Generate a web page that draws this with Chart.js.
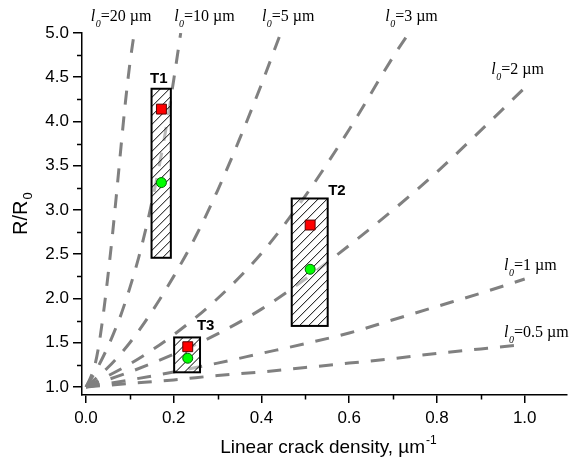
<!DOCTYPE html>
<html>
<head>
<meta charset="utf-8">
<script src="https://cdn.jsdelivr.net/npm/chart.js@4/dist/chart.umd.min.js"></script>
<style>
    html, body { margin: 0; padding: 0; background: #fff; }
    #wrap { width: 575px; height: 466px; position: relative; }
</style>
</head>
<body>
<div id="wrap"><canvas id="chart"></canvas></div>
<script>
// === Axis ticks ===
const xMajor = [0, 0.2, 0.4, 0.6, 0.8, 1.0];
const xMinor = [0.1, 0.3, 0.5, 0.7, 0.9];
const yMajor = [1.0, 1.5, 2.0, 2.5, 3.0, 3.5, 4.0, 4.5, 5.0];
const yMinor = [1.25, 1.75, 2.25, 2.75, 3.25, 3.75, 4.25, 4.75];

// === Model curves, one per l0 ===
const l0Values = ["20", "10", "5", "3", "2", "1", "0.5"];
const rho20 = [0, 0.01, 0.02, 0.03, 0.04, 0.05, 0.06, 0.07, 0.08, 0.09, 0.10, 0.11];
const r20   = [1, 1.10, 1.24, 1.49, 1.84, 2.25, 2.70, 3.20, 3.72, 4.22, 4.65, 5.0];
const rho10 = [0, 0.02, 0.04, 0.06, 0.08, 0.10, 0.12, 0.14, 0.16, 0.18, 0.20, 0.216];
const r10   = [1, 1.16, 1.35, 1.57, 1.82, 2.12, 2.46, 2.86, 3.32, 3.85, 4.47, 5.0];
const rho5  = [0, 0.05, 0.10, 0.15, 0.20, 0.25, 0.30, 0.35, 0.40, 0.444];
const r5    = [1, 1.22, 1.50, 1.85, 2.25, 2.70, 3.22, 3.80, 4.42, 5.0];
const rho3  = [0, 0.1, 0.2, 0.3, 0.4, 0.5, 0.6, 0.7, 0.736];
const r3    = [1, 1.26, 1.59, 2.00, 2.51, 3.16, 3.91, 4.73, 5.0];
const rho2  = [0, 0.1, 0.2, 0.3, 0.4, 0.5, 0.6, 0.7, 0.8, 0.9, 1.0];
const r2    = [1, 1.17, 1.37, 1.60, 1.88, 2.22, 2.60, 3.00, 3.43, 3.90, 4.38];
const rho1  = [0, 0.1, 0.2, 0.3, 0.4, 0.5, 0.6, 0.7, 0.8, 0.9, 1.0];
const r1    = [1, 1.08, 1.17, 1.27, 1.38, 1.49, 1.61, 1.76, 1.91, 2.06, 2.22];
const rho05 = [0, 0.1, 0.2, 0.3, 0.4, 0.5, 0.6, 0.7, 0.8, 0.9, 1.0];
const r05   = [1, 1.04, 1.08, 1.13, 1.17, 1.22, 1.27, 1.32, 1.38, 1.43, 1.48];

// === Measured samples and their zones ===
const zoneNames = ["T1", "T2", "T3"];
const sampleRho = [0.172, 0.511, 0.232];
const ratioSquare = [4.14, 2.83, 1.455];
const ratioCircle = [3.31, 2.33, 1.325];
const zoneRhoMin = [0.1495, 0.469, 0.201];
const zoneRhoMax = [0.1935, 0.551, 0.260];
const zoneRatioMin = [2.46, 1.69, 1.166];
const zoneRatioMax = [4.37, 3.13, 1.56];

const curveX = [rho20, rho10, rho5, rho3, rho2, rho1, rho05];
const curveY = [r20, r10, r5, r3, r2, r1, r05];

const SANS = '"Liberation Sans", Arial, sans-serif';
const SERIF = '"Liberation Serif", "Times New Roman", serif';

const toPoints = (xs, ys) => xs.map((x, i) => ({ x: x, y: ys[i] }));

const curveSets = curveX.map((xs, i) => ({
    label: "l0=" + l0Values[i] + " µm",
    data: toPoints(xs, curveY[i]),
    showLine: true,
    borderColor: "rgb(128,128,128)",
    borderWidth: 3,
    borderDash: [14, 12],
    pointRadius: 0,
    pointHoverRadius: 0,
    cubicInterpolationMode: "monotone",
    fill: false,
}));

// where the l0 captions and zone names sit, in data units
const l0Anchors = [
    [0.011, 5.131], [0.201, 5.131], [0.401, 5.131], [0.682, 5.131],
    [0.924, 4.54], [0.953, 2.323], [0.953, 1.565],
];
const zoneAnchors = [
    [0.166, 4.438, "center"], [0.552, 3.171, "left"], [0.253, 1.645, "left"],
];

// === Zones, minor ticks, titles and captions ===
const extrasPlugin = {
    id: "extras",
    beforeDatasetsDraw() { this.zonesDone = false; },
    beforeDatasetDraw(chart, args) {
        // markers are datasets 0 and 1; draw zones right before them
        if (args.index > 1 || this.zonesDone) return;
        this.zonesDone = true;
        const ctx = chart.ctx;
        const xs = chart.scales.x, ys = chart.scales.y;
        ctx.save();
        zoneNames.forEach((name, i) => {
            const x0 = xs.getPixelForValue(zoneRhoMin[i]);
            const x1 = xs.getPixelForValue(zoneRhoMax[i]);
            const y0 = ys.getPixelForValue(zoneRatioMax[i]);
            const y1 = ys.getPixelForValue(zoneRatioMin[i]);
            const w = x1 - x0, h = y1 - y0;
            ctx.save();
            ctx.fillStyle = "rgba(255,255,255,0.45)";
            ctx.fillRect(x0, y0, w, h);
            ctx.beginPath();
            ctx.rect(x0, y0, w, h);
            ctx.clip();
            ctx.strokeStyle = "#000";
            ctx.lineWidth = 1;
            ctx.beginPath();
            for (let k = -h; k < w + h; k += 9) {
                ctx.moveTo(x0 + k, y1);
                ctx.lineTo(x0 + k + h, y0);
            }
            ctx.stroke();
            ctx.restore();
            ctx.strokeStyle = "#000";
            ctx.lineWidth = 2;
            ctx.strokeRect(x0, y0, w, h);
        });
        ctx.restore();
    },
    afterDraw(chart) {
        const ctx = chart.ctx;
        const xs = chart.scales.x, ys = chart.scales.y;
        const area = chart.chartArea;
        ctx.save();

        // minor ticks
        ctx.strokeStyle = "#000";
        ctx.lineWidth = 1.5;
        ctx.beginPath();
        xMinor.forEach((v) => {
            const px = Math.round(xs.getPixelForValue(v)) + 0.5;
            ctx.moveTo(px, area.bottom);
            ctx.lineTo(px, area.bottom + 4.5);
        });
        yMinor.forEach((v) => {
            const py = Math.round(ys.getPixelForValue(v)) + 0.5;
            ctx.moveTo(area.left, py);
            ctx.lineTo(area.left - 5, py);
        });
        ctx.stroke();

        ctx.fillStyle = "#000";
        ctx.textBaseline = "alphabetic";

        // x title with superscript
        const xMain = "Linear crack density, µm";
        ctx.font = "19px " + SANS;
        const wMain = ctx.measureText(xMain).width;
        ctx.font = "12px " + SANS;
        const wSup = ctx.measureText("-1").width;
        let tx = 328 - (wMain + wSup) / 2;
        ctx.textAlign = "left";
        ctx.font = "19px " + SANS;
        ctx.fillText(xMain, tx, 453);
        ctx.font = "12px " + SANS;
        ctx.fillText("-1", tx + wMain + 1, 444);

        // y title with subscript
        ctx.save();
        ctx.translate(27, 235);
        ctx.rotate(-Math.PI / 2);
        ctx.font = "20px " + SANS;
        ctx.fillText("R/R", 0, 0);
        const wR = ctx.measureText("R/R").width;
        ctx.font = "13px " + SANS;
        ctx.fillText("0", wR + 1, 5);
        ctx.restore();

        // l0 captions
        l0Anchors.forEach(([ax, ay], i) => {
            let cx = xs.getPixelForValue(ax);
            const cy = ys.getPixelForValue(ay);
            ctx.font = "italic 16px " + SERIF;
            ctx.fillText("l", cx, cy);
            cx += ctx.measureText("l").width + 0.5;
            ctx.font = "italic 10px " + SERIF;
            ctx.fillText("0", cx, cy + 6);
            cx += ctx.measureText("0").width;
            ctx.font = "16px " + SERIF;
            ctx.fillText("=" + l0Values[i] + " µm", cx, cy);
        });

        // zone names
        ctx.font = "bold 15px " + SANS;
        zoneAnchors.forEach(([ax, ay, align], i) => {
            ctx.textAlign = align;
            ctx.fillText(zoneNames[i], xs.getPixelForValue(ax), ys.getPixelForValue(ay));
        });

        ctx.restore();
    },
};

const ctx = document.getElementById("chart").getContext("2d");
new Chart(ctx, {
    type: "scatter",
    data: {
        datasets: [
            {
                label: "square",
                data: toPoints(sampleRho, ratioSquare),
                pointStyle: "rect",
                pointRadius: 7,
                pointHoverRadius: 7,
                backgroundColor: "#ff0000",
                borderColor: "#5a0000",
                borderWidth: 1,
            },
            {
                label: "circle",
                data: toPoints(sampleRho, ratioCircle),
                pointStyle: "circle",
                pointRadius: 5,
                pointHoverRadius: 5,
                backgroundColor: "#00ff00",
                borderColor: "#006400",
                borderWidth: 1,
            },
            ...curveSets,
        ],
    },
    options: {
        responsive: true,
        maintainAspectRatio: false,
        animation: false,
        events: [],
        layout: { padding: { top: 33, right: 0, left: 0, bottom: 0 } },
        plugins: {
            legend: { display: false },
            tooltip: { enabled: false },
        },
        scales: {
            x: {
                type: "linear",
                min: -0.009,
                max: 1.0964,
                afterBuildTicks: (axis) => { axis.ticks = xMajor.map((v) => ({ value: v })); },
                afterFit: (axis) => { axis.height = 71; },
                ticks: {
                    callback: (v) => Number(v).toFixed(1),
                    color: "#000",
                    font: { family: SANS, size: 17 },
                    padding: 5,
                    maxRotation: 0,
                },
                grid: {
                    drawOnChartArea: false,
                    drawTicks: true,
                    tickLength: 8,
                    color: "#000",
                    lineWidth: 1.5,
                },
                border: { display: true, color: "#000", width: 1.5 },
            },
            y: {
                type: "linear",
                min: 0.9095,
                max: 5.0,
                afterBuildTicks: (axis) => { axis.ticks = yMajor.map((v) => ({ value: v })); },
                afterFit: (axis) => { axis.width = 82; },
                ticks: {
                    callback: (v) => Number(v).toFixed(1),
                    color: "#000",
                    font: { family: SANS, size: 17 },
                    padding: 4,
                },
                grid: {
                    drawOnChartArea: false,
                    drawTicks: true,
                    tickLength: 9,
                    color: "#000",
                    lineWidth: 1.5,
                },
                border: { display: true, color: "#000", width: 1.5 },
            },
        },
    },
    plugins: [extrasPlugin],
});
</script>
</body>
</html>
